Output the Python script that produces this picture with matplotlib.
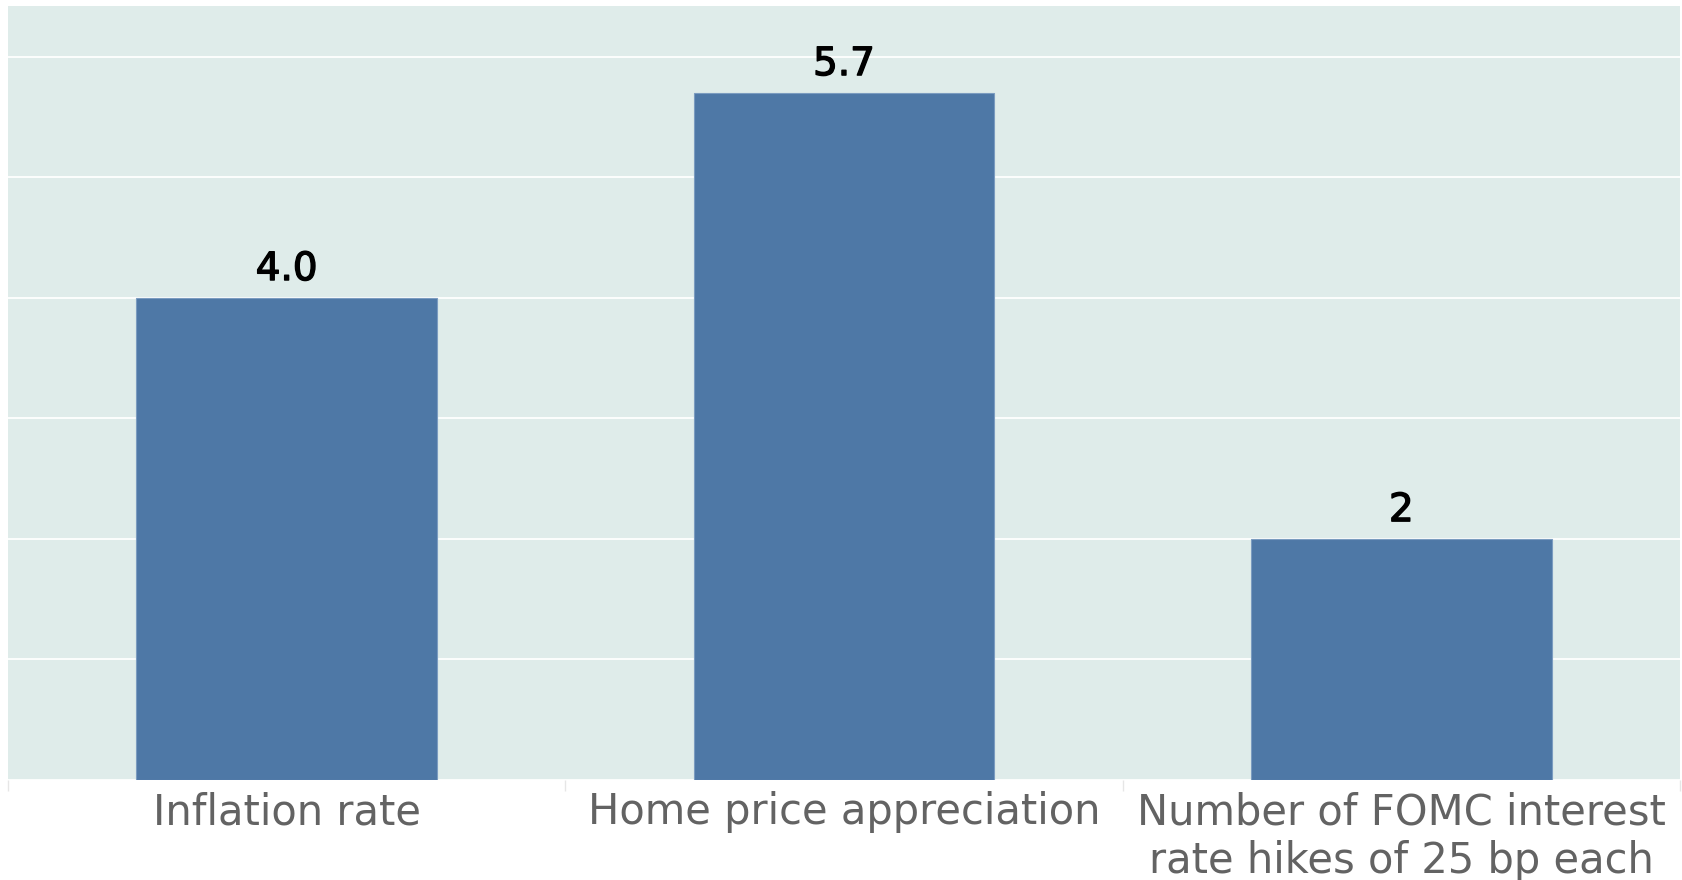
#!/usr/bin/env python3
# -*- coding: utf-8 -*-
"""
    bar chart: inflation, home prices and FOMC hikes
"""
import matplotlib
matplotlib.use("Agg")
import matplotlib.pyplot as plt
import matplotlib.patheffects as pe
import numpy as np

# data
categories = ["Inflation rate", "Home price appreciation",
              "Number of FOMC interest\nrate hikes of 25 bp each"]
values = [4.0, 5.7, 2]
value_labels = ["4.0", "5.7", "2"]

plt.rcParams['font.family'] = ['DejaVu Sans']

fig = plt.figure(figsize=(16.83, 8.8), dpi=100)
ax = fig.add_axes([8 / 1683, 1 - 780 / 880, 1672 / 1683, 774 / 880])
ax.set_facecolor('#dfecea')

x = np.arange(len(categories))
bars = ax.bar(x, values, width=0.54, color='#4e78a6',
              edgecolor='#7b9cc0', linewidth=0.8, zorder=3)

# value labels above each bar, slightly thickened
for rect, lab in zip(bars, value_labels):
    ax.annotate(lab, (rect.get_x() + rect.get_width() / 2, rect.get_height()),
                xytext=(0, 7), textcoords='offset points',
                ha='center', va='bottom', fontsize=28,
                color='black', zorder=4,
                path_effects=[pe.withStroke(linewidth=1.0, foreground='black')])

ax.set_xlim(-0.5, 2.5)
ax.set_ylim(0, 6.42)
ax.set_yticks(np.arange(0, 7, 1))
ax.yaxis.grid(True, color='white', linewidth=1.3, zorder=1)
ax.tick_params(axis='y', left=False, labelleft=False)

ax.set_xticks(x)
ax.set_xticklabels(categories, fontsize=30, color='#636363')
for lbl in ax.get_xticklabels():
    lbl.set_linespacing(1.2)
ax.tick_params(axis='x', which='major', length=0, pad=8)
# faint separators between categories
ax.set_xticks([-0.5, 0.5, 1.5, 2.5], minor=True)
ax.tick_params(axis='x', which='minor', length=8, width=1, color='#e6e6e6')

for s in ax.spines.values():
    s.set_visible(False)

plt.savefig("out.png", dpi=100)
